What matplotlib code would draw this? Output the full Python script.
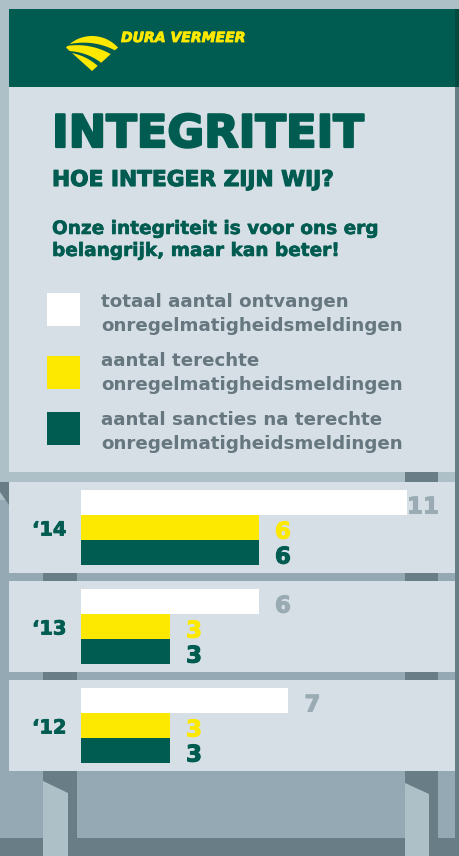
import matplotlib
matplotlib.use("Agg")
import matplotlib.pyplot as plt
import matplotlib.patheffects as pe
from matplotlib.patches import Rectangle, Polygon, Wedge
import numpy as np

# data
years = ["\u201814", "\u201813", "\u201812"]
totaal = [11, 6, 7]
terecht = [6, 3, 3]
sancties = [6, 3, 3]
legend_labels = [
    "totaal aantal ontvangen\nonregelmatigheidsmeldingen",
    "aantal terechte\nonregelmatigheidsmeldingen",
    "aantal sancties na terechte\nonregelmatigheidsmeldingen",
]

GREEN = "#005c50"
DARKGREEN = "#004a40"
YELLOW = "#fde800"
WHITE = "#ffffff"
PANEL = "#d6dfe5"
LIGHT = "#adc0c8"
MID = "#94a9b3"
DARK = "#687d85"
TEXT_GREY = "#66777f"
LABEL_GREY = "#9aabb4"
FONT = "DejaVu Sans"

W, H = 460, 856
fig = plt.figure(figsize=(W / 100, H / 100), dpi=100)
bg = fig.add_axes([0, 0, 1, 1])
bg.set_xlim(0, W)
bg.set_ylim(H, 0)
bg.axis("off")
renderer = fig.canvas.get_renderer()


def box(x0, y0, x1, y1, color):
    bg.add_patch(Rectangle((x0, y0), x1 - x0, y1 - y0, color=color, lw=0))


def fit_text(x, y, s, width, color, style="normal", weight="bold", stroke=0):
    t = bg.text(x, y, s, fontsize=12, color=color, fontweight=weight,
                fontstyle=style, family=FONT, ha="left", va="baseline")
    w = t.get_window_extent(renderer).width
    t.set_fontsize(12 * width / w)
    if stroke:
        t.set_path_effects([pe.withStroke(linewidth=stroke, foreground=color)])
    return t


# background / sign frame
box(0, 0, W, H, LIGHT)
box(0, 500, 9, 856, MID)
bg.add_patch(Polygon([(0, 482), (9, 482), (9, 505), (0, 492)], color=DARK, lw=0))
box(9, 9, 455, 87, GREEN)
box(455, 9, 460, 87, DARKGREEN)
box(455, 87, 460, 856, DARK)
box(9, 87, 455, 472, PANEL)
box(405, 472, 438, 482, DARK)
panel_tops = [482, 581, 680]
for top in panel_tops[1:]:
    box(9, top - 8, 455, top, MID)
    box(43, top - 8, 77, top, DARK)
    box(405, top - 8, 438, top, DARK)
for top in panel_tops:
    box(9, top, 455, top + 91, PANEL)
box(0, 771, 455, 838, MID)
box(0, 838, W, H, DARK)
box(43, 771, 77, 856, DARK)
box(405, 771, 438, 856, DARK)
bg.add_patch(Polygon([(43, 781), (68, 793), (68, 856), (43, 856)], color=LIGHT, lw=0))
bg.add_patch(Polygon([(405, 783), (429, 794), (429, 856), (405, 856)], color=LIGHT, lw=0))

# logo
sector = Wedge((92, 71), 35, 222, 318, color=GREEN, lw=0)
bg.add_patch(sector)


def curve(S, E, bulge):
    S, E = np.array(S, float), np.array(E, float)
    d = E - S
    perp = np.array([d[1], -d[0]]) / np.hypot(*d)
    ctrl = (S + E) / 2 + perp * bulge
    t = np.linspace(0, 1, 40)[:, None]
    return (1 - t) ** 2 * S + 2 * (1 - t) * t * ctrl + t ** 2 * E


stripes = [
    (((60, 36), (125, 40), 14), ((70, 44), (118, 52), 9)),
    (((66, 46), (114, 56), 9), ((64, 51), (104, 65), 8)),
    (((62, 52), (100, 68), 8), ((60, 58), (92, 74), 6)),
]
for (S1, E1, b1), (S2, E2, b2) in stripes:
    pts = np.vstack([curve(S1, E1, b1), curve(S2, E2, b2)[::-1]])
    poly = Polygon(pts, color=YELLOW, lw=0)
    bg.add_patch(poly)
    poly.set_clip_path(sector)
fit_text(121, 42, "DURA VERMEER", 124, YELLOW, style="italic", weight="heavy", stroke=0.6)

# titles
fit_text(52, 147, "INTEGRITEIT", 311, GREEN, stroke=1.6)
fit_text(52, 186, "HOE INTEGER ZIJN WIJ?", 281, GREEN, stroke=0.8)
body1 = fit_text(52, 234, "Onze integriteit is voor ons erg", 326, GREEN, stroke=0.4)
bg.text(52, 256, "belangrijk, maar kan beter!", color=GREEN, fontweight="bold",
        family=FONT, va="baseline", fontsize=body1.get_fontsize(),
        path_effects=[pe.withStroke(linewidth=0.4, foreground=GREEN)])

# legend
legend_colors = [WHITE, YELLOW, GREEN]
legend_tops = [293, 356, 412]
legend_base = [307, 366, 425]
for lab, col, top, base in zip(legend_labels, legend_colors, legend_tops, legend_base):
    box(47, top, 80, top + 33, col)
    l1, l2 = lab.split("\n")
    t2 = fit_text(101, base + 24, l2, 301, TEXT_GREY)
    bg.text(101, base, l1, color=TEXT_GREY, fontweight="bold", family=FONT,
            va="baseline", fontsize=t2.get_fontsize())

# bars
scale = 326 / 11  # px per unit
bar_x0 = 81
for i, top in enumerate(panel_tops):
    bt = top + 8
    ax = fig.add_axes([bar_x0 / W, 1 - (bt + 75) / H, (455 - bar_x0) / W, 75 / H])
    ax.set_xlim(0, (455 - bar_x0) / scale)
    ax.set_ylim(2.5, -0.5)
    ax.axis("off")
    vals = [totaal[i], terecht[i], sancties[i]]
    ax.barh([0, 1, 2], vals, height=1, color=[WHITE, YELLOW, GREEN], lw=0)
    for pos, v, c in zip([0, 1, 2], vals, [LABEL_GREY, YELLOW, GREEN]):
        ax.annotate(str(v), xy=(v, pos), xytext=(32 * 0.72, -11 * 0.72),
                    textcoords="offset points", ha="right", va="baseline",
                    color=c, fontsize=16.5, fontweight="bold", family=FONT,
                    path_effects=[pe.withStroke(linewidth=0.8, foreground=c)])
    bg.text(32, bt + 37.5 + 8, years[i], color=GREEN, fontsize=14,
            fontweight="bold", family=FONT, va="baseline",
            path_effects=[pe.withStroke(linewidth=0.6, foreground=GREEN)])

fig.savefig("out.png", dpi=100)
